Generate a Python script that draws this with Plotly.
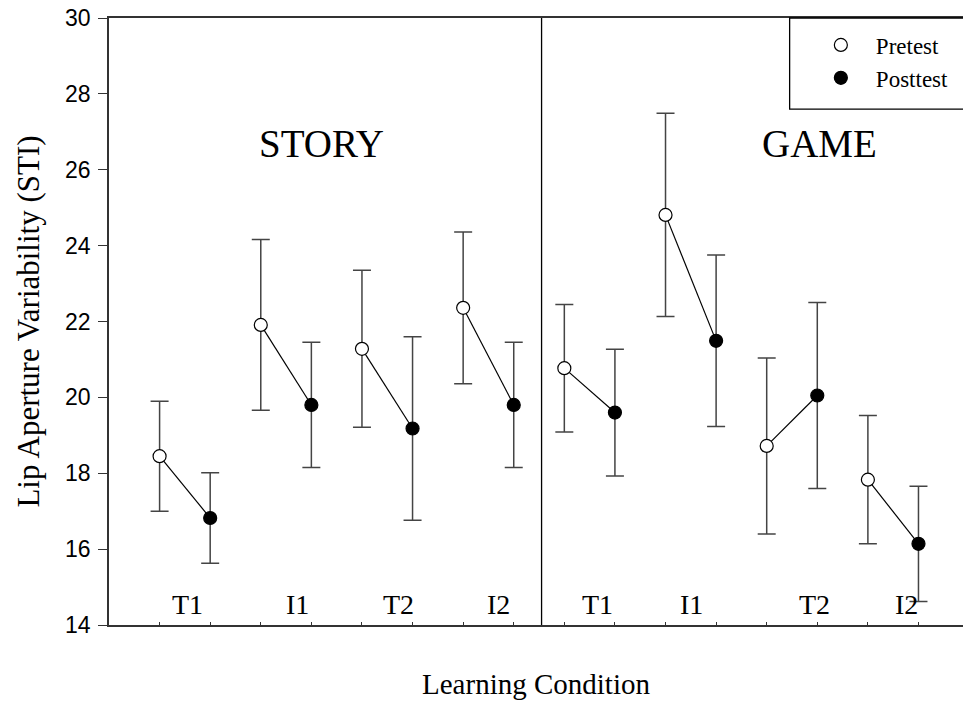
import plotly.graph_objects as go

# Learning conditions, in plotting order (first four: STORY, last four: GAME)
groups = ["STORY", "GAME"]
conditions = ["T1", "I1", "T2", "I2", "T1", "I1", "T2", "I2"]

# Lip aperture variability (STI): means and error half-widths
pre_mean = [18.45, 21.91, 21.28, 22.36, 20.77, 24.81, 18.72, 17.83]
pre_err = [1.45, 2.25, 2.07, 2.00, 1.68, 2.68, 2.32, 1.69]
post_mean = [16.82, 19.80, 19.18, 19.80, 19.60, 21.49, 20.05, 16.14]
post_err = [1.19, 1.65, 2.42, 1.65, 1.67, 2.26, 2.45, 1.52]

# Tick values for the y axis
y_ticks = [14, 16, 18, 20, 22, 24, 26, 28, 30]

# x slots: pretest and posttest of condition i sit side by side
pre_x = [2 * i + 1 for i in range(len(conditions))]
post_x = [2 * i + 2 for i in range(len(conditions))]

# where the condition labels and group titles are written
cond_label_x = [1.56, 3.72, 5.72, 7.69, 9.66, 11.52, 13.95, 15.77]
group_title_x = [4.2, 14.04]
divider_x = 8.55

SERIF = "Liberation Serif, Times New Roman, serif"
SANS = "Liberation Sans, Arial, sans-serif"
ERR_COLOR = "#444444"

fig = go.Figure()

# connecting segments between pretest and posttest
for i in range(len(conditions)):
    fig.add_trace(go.Scatter(
        x=[pre_x[i], post_x[i]], y=[pre_mean[i], post_mean[i]],
        mode="lines", line=dict(color="black", width=1.2),
        showlegend=False, hoverinfo="skip",
    ))

fig.add_trace(go.Scatter(
    x=pre_x, y=pre_mean, mode="markers", name="Pretest",
    marker=dict(symbol="circle", size=13, color="white",
                line=dict(color="black", width=1.2)),
    error_y=dict(type="data", array=pre_err, visible=True,
                 color=ERR_COLOR, thickness=1.5, width=9),
))
fig.add_trace(go.Scatter(
    x=post_x, y=post_mean, mode="markers", name="Posttest",
    marker=dict(symbol="circle", size=13, color="black",
                line=dict(color="black", width=1.2)),
    error_y=dict(type="data", array=post_err, visible=True,
                 color=ERR_COLOR, thickness=1.5, width=9),
))

annotations = []
for lbl, lx in zip(conditions, cond_label_x):
    annotations.append(dict(
        x=lx, y=14.53, xref="x", yref="y", text=lbl, showarrow=False,
        font=dict(family=SERIF, size=28, color="black"),
        xanchor="center", yanchor="middle",
    ))
for g, gx in zip(groups, group_title_x):
    annotations.append(dict(
        x=gx, y=26.7, xref="x", yref="y", text=g, showarrow=False,
        font=dict(family=SERIF, size=39, color="black"),
        xanchor="center", yanchor="middle",
    ))

shapes = [
    # divider between the two learning contexts
    dict(type="line", xref="x", yref="y", x0=divider_x, x1=divider_x,
         y0=14, y1=30, line=dict(color="black", width=1.3)),
    # legend frame
    dict(type="rect", xref="paper", yref="paper", x0=0.797, x1=1.05,
         y0=0.850, y1=1.0, line=dict(color="black", width=1.3),
         fillcolor="rgba(0,0,0,0)"),
]

fig.update_layout(
    width=963, height=703,
    margin=dict(l=109, r=0, t=18, b=78),
    paper_bgcolor="white", plot_bgcolor="white",
    showlegend=True,
    legend=dict(
        x=0.816, y=0.991, xanchor="left", yanchor="top",
        bgcolor="rgba(0,0,0,0)", borderwidth=0,
        font=dict(family=SERIF, size=23, color="black"),
        itemwidth=60, tracegroupgap=0,
    ),
    annotations=annotations,
    shapes=shapes,
    xaxis=dict(
        title=dict(text="Learning Condition", standoff=46,
                   font=dict(family=SERIF, size=29, color="black")),
        range=[0, 16.88], tickmode="array",
        tickvals=list(range(1, 17)), ticktext=[""] * 16,
        ticks="inside", ticklen=3, tickcolor="#333333", tickwidth=1,
        showgrid=False, zeroline=False,
        showline=True, linecolor="#333333", linewidth=1.5, mirror=True,
    ),
    yaxis=dict(
        title=dict(text="Lip Aperture Variability (STI)", standoff=16,
                   font=dict(family=SERIF, size=31, color="black")),
        range=[14, 30], tickmode="array", tickvals=y_ticks,
        ticks="outside", ticklen=9, tickcolor="#333333", tickwidth=1.2,
        tickfont=dict(family=SANS, size=23, color="black"),
        ticklabelstandoff=3,
        showgrid=False, zeroline=False,
        showline=True, linecolor="#333333", linewidth=1.5,
    ),
)

fig.write_html("out.html")
